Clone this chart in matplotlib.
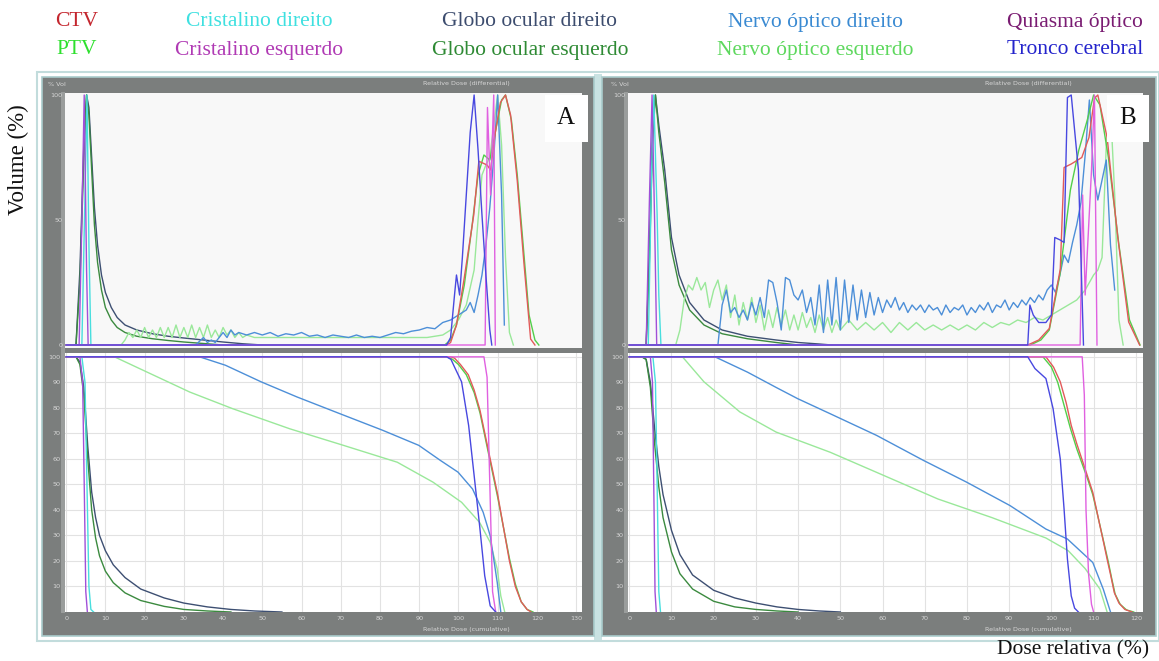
import matplotlib
matplotlib.use('Agg')
import matplotlib.pyplot as plt
from matplotlib.patches import Rectangle

# ---------------- legend (structures) ----------------
STRUCT_NAMES = ["CTV", "PTV", "Cristalino direito", "Cristalino esquerdo",
                "Globo ocular direito", "Globo ocular esquerdo",
                "Nervo óptico direito", "Nervo óptico esquerdo",
                "Quiasma óptico", "Tronco cerebral"]
LEGEND_COLORS = ["#c4262e", "#2fe02f", "#3fe0e0", "#b03ab4", "#3c4c6e",
                 "#2e8a34", "#3a8ad2", "#5ed85e", "#7a1c72", "#2424cc"]
LINE_COLORS = ["#e25a5a", "#52cf4a", "#48dede", "#a050d8", "#3d4f72",
               "#3b8a3f", "#4d8fd8", "#9ae89a", "#e060e0", "#4848e0"]

# ---------------- Panel A: differential DVH ----------------
A_DIF_CTV = ([0, 97, 98, 99.5, 101.4, 103.9, 105.2, 107.3, 108.2, 109.4, 110.7, 112, 113.3, 115, 116.7, 118.4, 119.5],
             [0, 0, 1, 8, 26, 52, 73.5, 72, 70, 85, 97, 100, 92, 65.6, 32.7, 2.4, 0])
A_DIF_PTV = ([0, 96.5, 98, 99.5, 101.5, 103.5, 105, 106.5, 108, 109.5, 111, 112, 113.5, 115, 116.5, 118, 119.5, 120.5],
             [0, 0, 2, 8, 24, 48, 68, 76, 74, 86, 98, 100, 90, 68, 40, 12, 2, 0])
A_DIF_CRIS_D = ([0, 4, 4.8, 5.3, 5.8, 6.3], [0, 0, 60, 100, 40, 0])
A_DIF_CRIS_E = ([0, 3.3, 4, 4.6, 5.2, 5.6], [0, 0, 50, 100, 30, 0])
A_DIF_GLOBO_D = ([0, 2.5, 3.5, 4.5, 5.2, 5.8, 6.5, 7.2, 8, 9, 10, 11.5, 13, 15, 18, 22, 26, 30, 35, 40, 45, 50],
                 [0, 0, 30, 80, 100, 95, 75, 55, 40, 28, 21, 15, 11, 8, 6, 4.5, 3.5, 2.8, 2, 1.2, 0.5, 0])
A_DIF_GLOBO_E = ([0, 2.5, 3.5, 4.5, 5.2, 5.8, 6.5, 7.2, 8, 9, 10, 11.5, 13, 15, 18, 22, 26, 30, 35, 40],
                 [0, 0, 25, 75, 100, 92, 70, 48, 33, 22, 15, 10, 7, 5, 3.5, 2.5, 1.8, 1.2, 0.6, 0])
A_DIF_NERVO_D = ([0, 33, 35, 36, 37, 38, 39, 40, 41, 42, 43, 44, 46, 48, 50, 52, 54, 56, 58, 60, 62, 64, 66, 68, 70,
                  72, 74, 76, 78, 80, 82, 84, 86, 88, 90, 92, 94, 96, 98, 100, 102, 103, 104, 105, 106, 107, 108,
                  109, 110, 111, 111.7],
                 [0, 0, 3, 1, 2, 1, 3, 5, 3, 6, 4, 5, 4, 5, 4, 5, 3.5, 4.5, 4, 5, 3.5, 4, 3, 4, 3.5,
                  3, 4, 3, 3.5, 3, 4, 5, 4.5, 5.5, 6, 7, 6.5, 9, 10, 12, 14, 17, 13, 20, 28, 40, 55,
                  75, 100, 60, 8])
A_DIF_NERVO_E = ([0, 14, 15, 16, 17, 18, 19, 20, 21, 22, 23, 24, 25, 26, 27, 28, 29, 30, 31, 32, 33, 34, 35, 36,
                  37, 38, 39, 40, 41, 42, 43, 44, 45, 46, 48, 55, 65, 75, 85, 92, 96, 98, 100, 102, 104, 105,
                  106, 107, 108, 109, 110, 111, 112, 113, 114],
                 [0, 0, 2, 5, 3, 6, 3, 7, 3, 6, 3, 7, 3, 7, 3, 8, 3, 7, 3, 8, 3, 7, 3, 8,
                  3, 6, 3, 7, 4, 6, 3, 5, 3, 4, 3, 3, 3, 3, 3, 3, 4, 6, 10, 16, 30, 50,
                  68, 72, 75, 88, 100, 80, 35, 5, 0])
A_DIF_QUIASMA = ([0, 106.8, 107.4, 108.2, 109, 109.4], [0, 0, 95, 60, 100, 0])
A_DIF_TRONCO = ([0, 97, 98, 99, 99.5, 100.3, 101, 102, 103, 104, 105, 106, 107, 108, 108.5],
                [0, 0, 3, 20, 28, 20, 35, 60, 85, 100, 78, 52, 28, 6, 0])

# ---------------- Panel A: cumulative DVH ----------------
A_CUM_CTV = ([0, 98, 99, 100.5, 102.5, 104, 105.5, 107, 108.5, 110, 111.5, 113, 114.5, 116, 117.5, 118.5],
             [100, 100, 99.5, 97, 93, 87, 79, 68, 57, 46, 33, 20, 10, 4, 1, 0])
A_CUM_PTV = ([0, 97, 98.5, 100, 102, 104, 105.5, 107, 108.5, 110, 111.5, 113, 114.5, 116, 117.5, 119],
             [100, 100, 99, 97, 93, 86, 78, 67, 56, 45, 33, 21, 11, 4, 1, 0])
A_CUM_CRIS_D = ([0, 4, 4.8, 5.3, 5.8, 6.3, 7], [100, 100, 90, 50, 10, 1, 0])
A_CUM_CRIS_E = ([0, 3.5, 4.2, 4.6, 5, 5.4], [100, 100, 90, 50, 8, 0])
A_CUM_GLOBO_D = ([0, 2.5, 3.5, 4.5, 5.5, 6.5, 7.5, 8.5, 10, 12, 15, 19, 25, 30, 36, 42, 48, 55],
                 [100, 100, 98, 88, 65, 47, 37, 30, 24, 18.5, 13.5, 9, 5.5, 3.5, 2, 1, 0.4, 0])
A_CUM_GLOBO_E = ([0, 2.5, 3.5, 4.5, 5.5, 6.5, 7.5, 8.5, 10, 12, 15, 19, 25, 30, 36, 42],
                 [100, 100, 97, 85, 60, 40, 29, 22, 16, 11.5, 7.5, 4.5, 2.2, 1, 0.4, 0])
A_CUM_NERVO_D = ([0, 34, 40.6, 49.7, 58.8, 69.8, 80.7, 89.9, 95.4, 99.9, 103.6, 106.3, 108.1, 109, 109.9, 110.8],
                 [100, 100, 96.7, 90.2, 84.3, 77.7, 71.2, 65.3, 59.4, 54.8, 48.2, 39.1, 29.9, 20.7, 11.5, 0])
A_CUM_NERVO_E = ([0, 12.3, 20.5, 31.5, 42.4, 57, 70.7, 84.4, 93.5, 100.8, 105.4, 108.1, 109.9, 110.8, 111.8],
                 [100, 100, 94.1, 86.2, 79.7, 71.8, 65.3, 58.7, 50.9, 43, 35.1, 27.3, 16.8, 6.3, 0])
A_CUM_QUIASMA = ([0, 106.5, 107.3, 108, 108.7, 109.5], [100, 100, 92, 50, 8, 0])
A_CUM_TRONCO = ([0, 97, 98.1, 99, 100.8, 102.6, 104, 105.4, 106.7, 108.1, 109.5],
                [100, 100, 99, 96, 90.2, 73.1, 53.5, 33.8, 14.2, 2.4, 0])

# ---------------- Panel B: differential DVH ----------------
B_DIF_CTV = ([0, 94.4, 97, 99.5, 102.1, 103, 104.7, 107.2, 108.9, 110.2, 111, 113.2, 115.7, 118.3, 120.9],
             [0, 0, 2, 6.6, 30.3, 71, 72.4, 75, 83, 98.7, 100, 83, 43.4, 9.2, 0])
B_DIF_PTV = ([0, 95, 97.5, 99.5, 102, 104.5, 106.5, 108.5, 110, 111.5, 113.5, 116, 118.5, 121],
             [0, 0, 2, 6, 28, 62, 78, 90, 100, 96, 75, 40, 10, 0])
B_DIF_CRIS_D = ([0, 4.5, 5.3, 5.8, 6.3, 6.6, 7, 7.5], [0, 0, 70, 100, 70, 52, 20, 0])
B_DIF_CRIS_E = ([0, 4, 4.8, 5.4, 6, 6.5], [0, 0, 60, 100, 50, 0])
B_DIF_GLOBO_D = ([0, 4, 4.8, 5.5, 6.2, 7, 8.4, 10, 11.8, 14.3, 17.7, 22, 28, 34.8, 40, 45, 48],
                 [0, 0, 40, 85, 100, 88, 70, 43, 28, 17, 10, 6, 3.5, 2, 1, 0.4, 0])
B_DIF_GLOBO_E = ([0, 4, 4.8, 5.5, 6.2, 7, 8.4, 10, 11.8, 14.3, 17.7, 22, 28, 34.8, 40],
                 [0, 0, 35, 80, 100, 85, 65, 38, 24, 14, 8, 4.5, 2.5, 1, 0])
B_DIF_NERVO_D_DOSE = list(range(20, 116))
B_DIF_NERVO_D_VOL = [0, 0, 16, 22, 13, 15, 11, 14, 10, 17, 12, 19, 11, 26, 25, 17, 6, 27, 26, 20,
                     18, 22, 13, 19, 8, 24, 5, 26, 8, 27, 6, 26, 9, 24, 10, 22, 11, 21, 12, 19,
                     13, 18, 15, 19, 14, 17, 13, 16, 14, 16, 13, 16, 14, 15, 12, 16, 13, 15, 14, 16,
                     12, 15, 13, 16, 14, 17, 13, 16, 15, 18, 14, 17, 15, 18, 16, 19, 17, 20, 18, 22,
                     24, 21, 28, 36, 33, 41, 48, 57, 76, 98, 68, 58, 66, 74, 40, 22]
B_DIF_NERVO_E = ([0, 11, 12, 13, 14, 15, 16, 17, 18, 19, 20, 21, 22, 23, 24, 25, 26, 27, 28, 29, 30, 31, 32, 33,
                  34, 35, 36, 37, 38, 39, 40, 41, 42, 43, 44, 45, 46, 47, 48, 49, 50, 52, 54, 56, 58, 60, 62,
                  64, 66, 68, 70, 72, 74, 76, 78, 80, 82, 84, 86, 88, 90, 92, 94, 96, 98, 100, 102, 104, 106,
                  108, 110, 111, 112, 113, 114, 115, 116, 117],
                 [0, 0, 6, 18, 24, 22, 27, 22, 25, 15, 22, 26, 18, 24, 11, 20, 8, 17, 10, 19, 9, 16, 6, 14,
                  7, 15, 8, 14, 6, 12, 6, 13, 7, 11, 5, 12, 6, 11, 5, 10, 6, 10, 6, 9, 6, 9, 5,
                  9, 6, 9, 6, 8, 6, 8, 6, 8, 6, 9, 7, 9, 8, 10, 9, 11, 10, 12, 14, 16, 18,
                  22, 28, 30, 35, 80, 95, 60, 10, 0])
B_DIF_QUIASMA = ([0, 106.8, 107.4, 108, 109.5, 110.2, 110.8], [0, 0, 60, 20, 70, 100, 0])
B_DIF_TRONCO = ([0, 93, 94.4, 94.9, 95.7, 97, 98.7, 100, 100.8, 102.1, 103, 103.8, 104.7, 106.4, 107.6],
                [0, 0, 0, 16, 12, 9, 9, 12, 43, 42, 41, 99, 100, 70, 0])

# ---------------- Panel B: cumulative DVH ----------------
B_CUM_CTV = ([0, 98.7, 100.5, 102.1, 103.5, 104.7, 106, 107.2, 108.5, 109.8, 110.7, 111.5, 112.4, 113.2, 114.1,
              114.9, 116, 117.4, 119.1],
             [100, 100, 96, 90.2, 82, 73.1, 66, 60, 53.5, 46.9, 40, 33.8, 27, 20.7, 14, 7.6, 3.5, 1, 0])
B_CUM_PTV = ([0, 98, 100, 101.5, 103, 104.5, 106, 107.3, 108.6, 109.8, 110.8, 111.7, 112.6, 113.5, 114.3, 115.1,
              116.3, 117.8, 119.5],
             [100, 100, 96, 90, 81, 72, 64, 58, 52, 46, 39, 32.5, 26, 19.5, 13, 7, 3, 0.8, 0])
B_CUM_CRIS_D = ([0, 5.6, 6.2, 6.6, 7, 7.4], [100, 100, 90, 50, 8, 0])
B_CUM_CRIS_E = ([0, 5, 5.5, 5.8, 6.1, 6.4], [100, 100, 90, 50, 8, 0])
B_CUM_GLOBO_D = ([0, 3, 4, 5, 6, 7, 8, 10, 12, 15, 20, 25, 30, 35, 40, 45, 50],
                 [100, 100, 99, 90, 72, 57, 46, 32, 22.5, 14.5, 8.5, 5.5, 3.5, 2, 1, 0.4, 0])
B_CUM_GLOBO_E = ([0, 3, 4, 5, 6, 7, 8, 10, 12, 15, 20, 25, 30, 35, 40],
                 [100, 100, 99, 88, 66, 49, 37, 23.5, 15, 9, 4.2, 2, 1, 0.4, 0])
B_CUM_NERVO_D = ([0, 20.3, 28, 34.8, 39.9, 47.6, 58.6, 69.7, 79.9, 90.2, 98.7, 103.8, 109.8, 112.3, 114],
                 [100, 100, 94, 88, 83.6, 77.7, 69.2, 59.4, 50.9, 41.7, 32.5, 28.6, 19.4, 8.9, 0])
B_CUM_NERVO_E = ([0, 12.6, 17.7, 26.2, 34.8, 47.6, 60.3, 73.1, 85.9, 98.7, 104, 108, 111.5, 113.2],
                 [100, 100, 90.2, 78.4, 70.5, 62.6, 53.5, 44.3, 37, 29, 24, 17, 9, 0])
B_CUM_QUIASMA = ([0, 107.3, 107.8, 108.2, 108.8, 109.5, 110], [100, 100, 85, 40, 15, 3, 0])
B_CUM_TRONCO = ([0, 94.4, 96.1, 98.7, 100.4, 102.1, 103, 103.8, 104.7, 105.5, 106.4],
                [100, 100, 95.4, 91.5, 79.7, 60, 40.4, 20.7, 6.3, 1.5, 0])

A_XTICKS = list(range(0, 131, 10))
B_XTICKS = list(range(0, 121, 10))
DIF_YTICKS = [0, 50, 100]
CUM_YTICKS = list(range(10, 101, 10))

# ---------------- figure ----------------
W, H = 1159, 661
fig = plt.figure(figsize=(W / 100, H / 100), dpi=100)
fig.patch.set_facecolor('white')
SERIF = ['Liberation Serif', 'DejaVu Serif']


def box(x0, y0, x1, y1, **kw):
    fig.patches.append(Rectangle((x0 / W, 1 - y1 / H), (x1 - x0) / W, (y1 - y0) / H,
                                 transform=fig.transFigure, zorder=-5, **kw))


def rect(x0, y0, x1, y1):
    return [x0 / W, 1 - y1 / H, (x1 - x0) / W, (y1 - y0) / H]


def ftext(x, y, s, **kw):
    fig.text(x / W, 1 - y / H, s, **kw)


# outer light border and panel frames
box(37, 72, 1159, 641, facecolor='none', edgecolor='#c2dcdc', lw=1.5)
box(594, 74, 602, 640, facecolor='#c9e2e2', edgecolor='none')
FRAME = '#7b7e7d'
box(42, 77, 594, 636, facecolor=FRAME, edgecolor='#a9cccc', lw=1.2)
box(602, 77, 1156, 636, facecolor=FRAME, edgecolor='#a9cccc', lw=1.2)
# lighter strip left of plots
box(61, 92, 65, 613, facecolor='#9a9d9c', edgecolor='none')
box(624, 92, 628, 613, facecolor='#9a9d9c', edgecolor='none')

LBL = '#d6d6d6'
TFS = 4.6

panels = [
    dict(x0=65, x1=582, xlim=(-0.3, 131.5), xticks=A_XTICKS, letter='A', lx=566,
         dif=[A_DIF_GLOBO_D, A_DIF_GLOBO_E, A_DIF_NERVO_E, A_DIF_NERVO_D, A_DIF_CRIS_D, A_DIF_CRIS_E,
              A_DIF_PTV, A_DIF_CTV, A_DIF_QUIASMA, A_DIF_TRONCO],
         cum=[A_CUM_GLOBO_D, A_CUM_GLOBO_E, A_CUM_NERVO_E, A_CUM_NERVO_D, A_CUM_CRIS_D, A_CUM_CRIS_E,
              A_CUM_PTV, A_CUM_CTV, A_CUM_QUIASMA, A_CUM_TRONCO]),
    dict(x0=628, x1=1143, xlim=(-0.3, 121.7), xticks=B_XTICKS, letter='B', lx=1128,
         dif=[B_DIF_GLOBO_D, B_DIF_GLOBO_E, B_DIF_NERVO_E, (B_DIF_NERVO_D_DOSE, B_DIF_NERVO_D_VOL),
              B_DIF_CRIS_D, B_DIF_CRIS_E, B_DIF_PTV, B_DIF_CTV, B_DIF_QUIASMA, B_DIF_TRONCO],
         cum=[B_CUM_GLOBO_D, B_CUM_GLOBO_E, B_CUM_NERVO_E, B_CUM_NERVO_D, B_CUM_CRIS_D, B_CUM_CRIS_E,
              B_CUM_PTV, B_CUM_CTV, B_CUM_QUIASMA, B_CUM_TRONCO]),
]
# order of curves above -> index into colour lists
ORDER = [4, 5, 7, 6, 2, 3, 1, 0, 8, 9]

for p in panels:
    # differential (top)
    ax1 = fig.add_axes(rect(p['x0'], 93, p['x1'], 348))
    ax1.set_facecolor('#f8f8f8')
    for data, ci in zip(p['dif'], ORDER):
        ax1.plot(data[0], data[1], color=LINE_COLORS[ci], lw=1.0)
    ax1.set_xlim(*p['xlim'])
    ax1.set_ylim(-1.2, 100.8)
    ax1.set_xticks([])
    ax1.set_yticks(DIF_YTICKS)
    ax1.set_yticklabels([str(v) for v in DIF_YTICKS])
    ax1.tick_params(axis='y', length=0, pad=2, labelsize=TFS, labelcolor=LBL)
    for s in ax1.spines.values():
        s.set_visible(False)

    # cumulative (bottom)
    ax2 = fig.add_axes(rect(p['x0'], 353, p['x1'], 612))
    ax2.set_facecolor('white')
    for data, ci in zip(p['cum'], ORDER):
        ax2.plot(data[0], data[1], color=LINE_COLORS[ci], lw=1.0)
    ax2.set_xlim(*p['xlim'])
    ax2.set_ylim(0, 101.5)
    ax2.set_xticks(p['xticks'])
    ax2.set_xticklabels([str(v) for v in p['xticks']])
    ax2.set_yticks(CUM_YTICKS)
    ax2.set_yticklabels([str(v) for v in CUM_YTICKS])
    ax2.grid(True, color='#e2e2e2', lw=0.8)
    ax2.set_axisbelow(True)
    ax2.tick_params(length=0, pad=3, labelsize=TFS, labelcolor=LBL)
    for s in ax2.spines.values():
        s.set_visible(False)

    xm = (p['x0'] + p['x1']) / 2
    ftext(p['x0'] - 17, 84, '% Vol', fontsize=TFS, color=LBL, va='center')
    ftext(xm + 143, 84, 'Relative Dose (differential)', fontsize=TFS, color=LBL, ha='center', va='center')
    ftext(xm + 143, 629, 'Relative Dose (cumulative)', fontsize=TFS, color=LBL, ha='center', va='center')
    ftext(p['lx'], 118, p['letter'], fontsize=18, family=SERIF, color='#111111', ha='center', va='center',
          bbox=dict(boxstyle='square,pad=0.5', fc='white', ec='none'))

# legend text at the top
COL_X = [77, 259, 530, 815, 1075]
for i, name in enumerate(STRUCT_NAMES):
    col, row = divmod(i, 2)
    ftext(COL_X[col], 22 if row == 0 else 50, name, fontsize=15.5, family=SERIF,
          color=LEGEND_COLORS[i], ha='center', va='center')

ftext(18, 160, 'Volume (%)', fontsize=16.5, family=SERIF, rotation=90, ha='center', va='center', color='#111111')
ftext(1073, 650, 'Dose relativa (%)', fontsize=15.5, family=SERIF, ha='center', va='center', color='#111111')

fig.savefig('out.png', dpi=100, facecolor='white')
